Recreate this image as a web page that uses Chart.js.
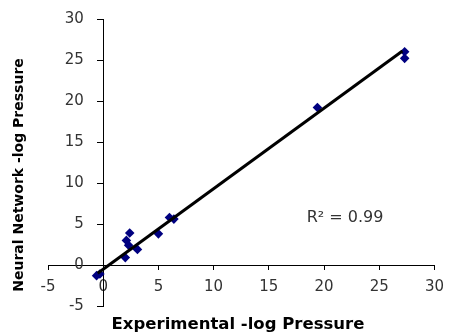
<!DOCTYPE html>
<html>
<head>
<meta charset="utf-8">
<script src="https://cdn.jsdelivr.net/npm/chart.js"></script>
<style>
  html, body { margin: 0; padding: 0; background: #fff; }
</style>
</head>
<body>
<canvas id="chart" width="453" height="335"></canvas>
<script>
// observed vs predicted (-log pressure)
const experimental = [-0.6, -0.3, 2.0, 2.1, 2.4, 2.3, 3.1, 5.0, 6.0, 6.4, 19.4, 27.3, 27.3];
const predicted    = [-1.3, -1.1, 0.9, 3.0, 3.9, 2.4, 1.9, 3.8, 5.8, 5.6, 19.2, 26.0, 25.2];

// fitted line end points
const trendX = [-0.5, 27.1];
const trendY = [-1.0, 26.1];

const tickValues = [-5, 0, 5, 10, 15, 20, 25, 30];
const r2Label = 'R² = 0.99';

const points = experimental.map((x, i) => ({ x: x, y: predicted[i] }));
const trend = trendX.map((x, i) => ({ x: x, y: trendY[i] }));

const tickFont = { family: 'DejaVu Sans', size: 15 };
const setTicks = (s) => { s.ticks = tickValues.map(v => ({ value: v })); };

// axis titles and the R² note
const labelsPlugin = {
    id: 'labels',
    afterDraw(chart) {
        const ctx = chart.ctx;
        ctx.save();
        ctx.fillStyle = '#000';
        ctx.textAlign = 'center';
        ctx.textBaseline = 'middle';
        ctx.font = 'bold 16.5px "DejaVu Sans"';
        ctx.fillText('Experimental -log Pressure', 238, 325);

        ctx.translate(19, 175);
        ctx.rotate(-Math.PI / 2);
        ctx.font = 'bold 14px "DejaVu Sans"';
        ctx.fillText('Neural Network -log Pressure', 0, 0);
        ctx.restore();

        ctx.save();
        ctx.fillStyle = '#333';
        ctx.font = '16px "DejaVu Sans"';
        ctx.textAlign = 'center';
        ctx.textBaseline = 'middle';
        ctx.fillText(r2Label, chart.scales.x.getPixelForValue(21.9), chart.scales.y.getPixelForValue(5.7));
        ctx.restore();
    }
};

new Chart(document.getElementById('chart').getContext('2d'), {
    type: 'scatter',
    data: {
        datasets: [{
            type: 'line',
            data: trend,
            borderColor: '#000',
            borderWidth: 3,
            pointRadius: 0,
            fill: false,
            order: 0
        }, {
            data: points,
            pointStyle: 'rectRot',
            pointRadius: 4.8,
            backgroundColor: '#000080',
            borderColor: '#000080',
            borderWidth: 0,
            order: 1
        }]
    },
    options: {
        responsive: false,
        animation: false,
        layout: { padding: { left: 48, right: 11, top: 19, bottom: 29 } },
        plugins: { legend: { display: false }, tooltip: { enabled: false } },
        scales: {
            x: {
                type: 'linear',
                position: { y: 0 },
                min: -5,
                max: 30,
                afterBuildTicks: setTicks,
                grid: { drawOnChartArea: false, tickLength: 4, color: '#000' },
                border: { color: '#000', width: 1 },
                ticks: { font: tickFont, color: '#333', padding: 9, maxRotation: 0 }
            },
            // axis line and tick marks at x = 0
            y: {
                type: 'linear',
                position: { x: 0 },
                min: -5,
                max: 30,
                afterBuildTicks: setTicks,
                grid: { drawOnChartArea: false, tickLength: 6, color: '#000' },
                border: { color: '#000', width: 1 },
                ticks: { display: false }
            },
            // tick labels only, set a bit left of the axis line
            yLabels: {
                type: 'linear',
                axis: 'y',
                position: { x: -1.75 },
                min: -5,
                max: 30,
                afterBuildTicks: setTicks,
                grid: { display: false },
                border: { display: false },
                ticks: { font: tickFont, color: '#333' }
            }
        }
    },
    plugins: [labelsPlugin]
});
</script>
</body>
</html>
